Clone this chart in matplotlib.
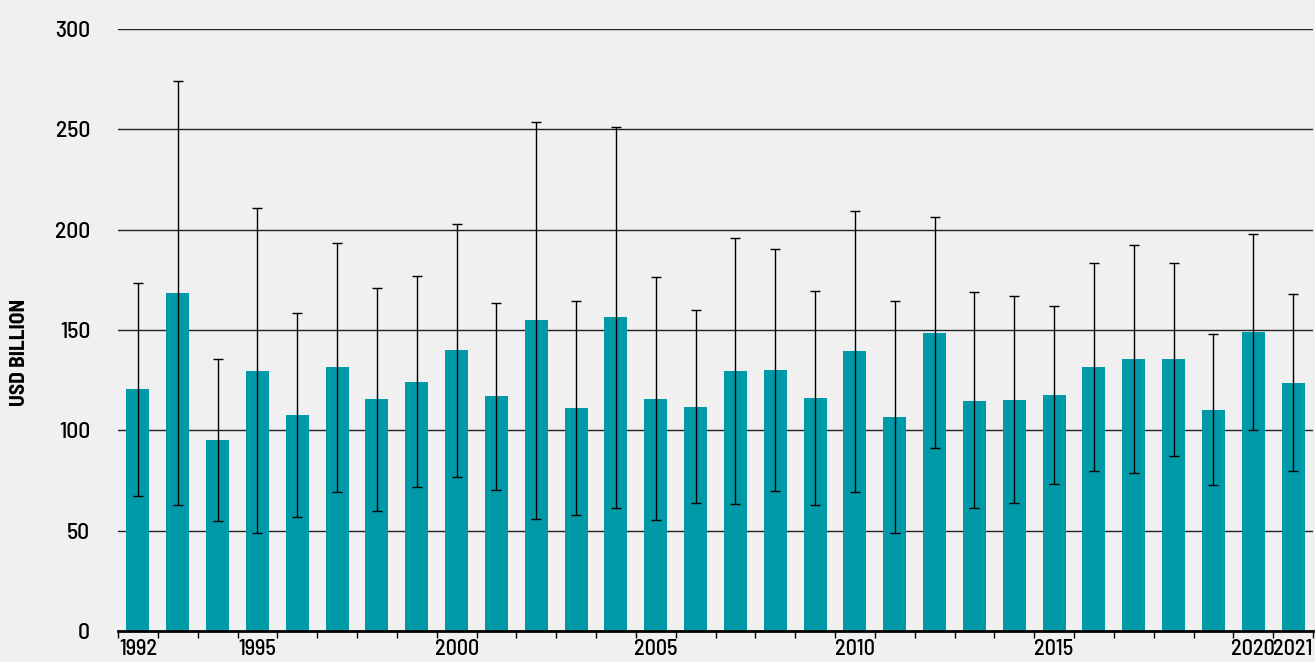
import numpy as np
import matplotlib
matplotlib.use("Agg")
import matplotlib.pyplot as plt

# ---------------------------------------------------------------
# data
# ---------------------------------------------------------------
years = list(range(1992, 2022))
values = [120.6, 168.4, 95.2, 129.5, 107.6, 131.5, 115.6, 124.1, 140.0, 117.1,
          155.0, 111.1, 156.5, 115.6, 111.6, 129.5, 130.0, 116.1, 139.5, 106.6,
          148.5, 114.6, 115.1, 117.6, 131.5, 135.5, 135.5, 110.1, 149.0, 123.6]
low = [67.1, 62.9, 54.8, 49.0, 57.0, 69.4, 59.8, 71.7, 76.9, 70.1,
       55.6, 57.8, 61.4, 55.3, 63.9, 63.3, 69.9, 62.6, 69.4, 48.7,
       91.2, 61.1, 63.6, 73.2, 79.6, 78.6, 87.2, 72.6, 100.1, 79.6]
high = [173.6, 274.0, 135.5, 210.6, 158.4, 193.2, 171.1, 176.9, 203.0, 163.6,
        253.8, 164.6, 251.0, 176.5, 159.8, 195.7, 190.2, 169.6, 209.3, 164.3,
        206.1, 168.9, 166.8, 161.9, 183.5, 192.2, 183.5, 148.1, 197.8, 167.9]
label_years = [1992, 1995, 2000, 2005, 2010, 2015, 2020, 2021]

BG = "#f0f0f0"
BAR = "#0099a8"

plt.rcParams['font.family'] = ['Barlow Semi Condensed', 'DejaVu Sans']

fig = plt.figure(figsize=(13.15, 6.62), dpi=100, facecolor=BG)
ax = fig.add_axes([118 / 1315, 1 - 631 / 662, (1313 - 118) / 1315, (631 - 29) / 662])
ax.set_facecolor(BG)

x = np.arange(len(years))
vals = np.array(values)
yerr = np.vstack([vals - np.array(low), np.array(high) - vals])

ax.bar(x, vals, width=0.58, color=BAR, zorder=2)
ax.errorbar(x, vals, yerr=yerr, fmt='none', ecolor='black', elinewidth=1.0,
            capsize=3.5, capthick=1.0, zorder=3)

# grid / axes
ax.set_ylim(0, 300)
ax.set_xlim(-0.5, len(years) - 0.5)
ax.set_yticks(np.arange(0, 301, 50))
ax.yaxis.grid(True, color='#222222', linewidth=1.0, zorder=0)
ax.set_axisbelow(True)

for s in ['left', 'right', 'top']:
    ax.spines[s].set_visible(False)
ax.spines['bottom'].set_linewidth(2)
ax.spines['bottom'].set_color('black')
ax.spines['bottom'].set_zorder(4)

ax.tick_params(axis='y', length=0, pad=20, labelsize=17)
for lab in ax.get_yticklabels():
    lab.set_fontweight('medium')

ax.set_xticks([years.index(y) for y in label_years])
ax.set_xticklabels([str(y) for y in label_years])
for lab in ax.get_xticklabels():
    lab.set_fontweight('medium')
ax.set_xticks(np.arange(-0.5, len(years), 1.0), minor=True)
ax.tick_params(axis='x', which='major', length=0, pad=6, labelsize=16)
ax.tick_params(axis='x', which='minor', length=5, width=1, color='black')

fig.text(20 / 1315, 1 - 352 / 662, "USD BILLION", rotation=90, ha='center', va='center',
         fontsize=15.5, fontweight='bold')

fig.savefig("out.png", dpi=100, facecolor=BG)
